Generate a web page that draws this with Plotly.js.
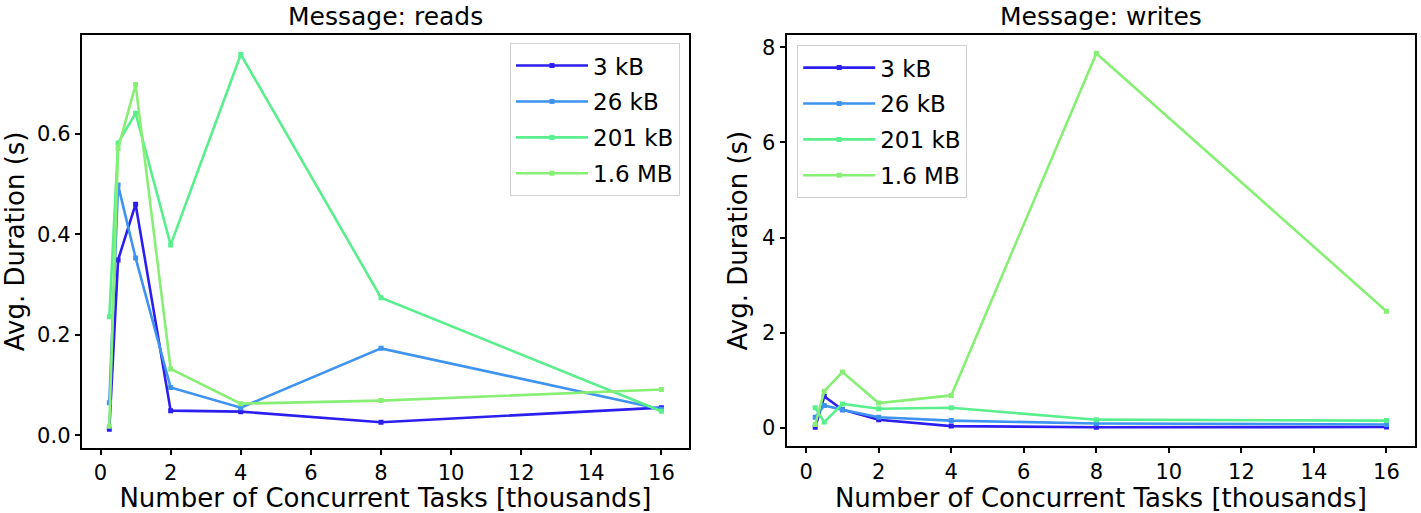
<!DOCTYPE html>
<html>
<head>
<meta charset="utf-8">
<script src="https://cdn.plot.ly/plotly-3.0.1.min.js"></script>
<style>
  html, body { margin: 0; padding: 0; background: #fff; }
  #chart { width: 1421px; height: 513px; }
</style>
</head>
<body>
<div id="chart"></div>
<script>
// Concurrent tasks, in thousands
const tasks = [0.25, 0.5, 1, 2, 4, 8, 16];

// Message sizes (legend labels) and their colours
const sizes = ['3 kB', '26 kB', '201 kB', '1.6 MB'];
const colors = ['#2d1ef0', '#3d93ef', '#58ef8c', '#86ef74'];

// Avg. duration (s), reads
const reads3k   = [0.012, 0.349, 0.460, 0.049, 0.047, 0.026, 0.055];
const reads26k  = [0.065, 0.498, 0.353, 0.095, 0.055, 0.173, 0.052];
const reads201k = [0.236, 0.582, 0.641, 0.379, 0.758, 0.274, 0.048];
const reads16m  = [0.018, 0.571, 0.698, 0.132, 0.063, 0.069, 0.091];

// Avg. duration (s), writes
const writes3k   = [0.01, 0.66, 0.38, 0.17, 0.035, 0.01, 0.015];
const writes26k  = [0.22, 0.47, 0.38, 0.22, 0.15, 0.09, 0.07];
const writes201k = [0.42, 0.12, 0.50, 0.40, 0.42, 0.17, 0.15];
const writes16m  = [0.07, 0.77, 1.17, 0.52, 0.68, 7.87, 2.45];

const readSeries = [reads3k, reads26k, reads201k, reads16m];
const writeSeries = [writes3k, writes26k, writes201k, writes16m];

const FONT = "'DejaVu Sans', sans-serif";

function makeTraces(series, xaxis, yaxis, legend) {
    return series.map((ys, i) => ({
        x: tasks,
        y: ys,
        type: 'scatter',
        mode: 'lines+markers',
        name: sizes[i],
        xaxis,
        yaxis,
        legend,
        legendgroup: legend + '-' + i,
        line: { color: colors[i], width: 2.6 },
        marker: { color: colors[i], size: 5, symbol: 'square' },
    }));
}

const traces = [
    ...makeTraces(readSeries, 'x', 'y', 'legend'),
    ...makeTraces(writeSeries, 'x2', 'y2', 'legend2'),
];

const axisBase = {
    showgrid: false,
    zeroline: false,
    showline: true,
    mirror: true,
    linecolor: '#000',
    linewidth: 2,
    ticks: 'outside',
    ticklen: 5,
    tickwidth: 1.5,
    tickcolor: '#000',
    tickfont: { family: FONT, size: 21, color: '#000' },
};

const xTitle = { text: 'Number of Concurrent Tasks [thousands]', font: { family: FONT, size: 26, color: '#000' }, standoff: 5 };
const yTitle = { text: 'Avg. Duration (s)', font: { family: FONT, size: 26, color: '#000' }, standoff: 7 };

const legendBase = {
    xanchor: 'left',
    yanchor: 'top',
    bgcolor: 'rgba(255,255,255,0.85)',
    bordercolor: '#d0d0d0',
    borderwidth: 1,
    font: { family: FONT, size: 23, color: '#000' },
    itemwidth: 72,
    tracegroupgap: 3,
};

const layout = {
    width: 1421,
    height: 513,
    margin: { l: 0, r: 0, t: 0, b: 0 },
    paper_bgcolor: '#fff',
    plot_bgcolor: '#fff',
    showlegend: true,
    xaxis: {
        ...axisBase,
        domain: [0.0575, 0.4849],
        range: [-0.5375, 16.7875],
        tickvals: [0, 2, 4, 6, 8, 10, 12, 14, 16],
        anchor: 'y',
        title: xTitle,
    },
    yaxis: {
        ...axisBase,
        domain: [0.127, 0.932],
        range: [-0.025, 0.797],
        tickvals: [0, 0.2, 0.4, 0.6],
        tickformat: '.1f',
        anchor: 'x',
        title: yTitle,
    },
    xaxis2: {
        ...axisBase,
        domain: [0.5536, 0.9958],
        range: [-0.5375, 16.7875],
        tickvals: [0, 2, 4, 6, 8, 10, 12, 14, 16],
        anchor: 'y2',
        title: xTitle,
    },
    yaxis2: {
        ...axisBase,
        domain: [0.13, 0.932],
        range: [-0.39, 8.26],
        tickvals: [0, 2, 4, 6, 8],
        anchor: 'x2',
        title: yTitle,
    },
    legend: { ...legendBase, x: 0.3589, y: 0.916 },
    legend2: { ...legendBase, x: 0.561, y: 0.912 },
    annotations: [
        {
            text: 'Message: reads', xref: 'paper', yref: 'paper',
            x: 0.2712, y: 0.935, xanchor: 'center', yanchor: 'bottom',
            showarrow: false, font: { family: FONT, size: 25, color: '#000' },
        },
        {
            text: 'Message: writes', xref: 'paper', yref: 'paper',
            x: 0.7747, y: 0.935, xanchor: 'center', yanchor: 'bottom',
            showarrow: false, font: { family: FONT, size: 25, color: '#000' },
        },
    ],
};

Plotly.newPlot('chart', traces, layout, { displayModeBar: false, responsive: false });
</script>
</body>
</html>
